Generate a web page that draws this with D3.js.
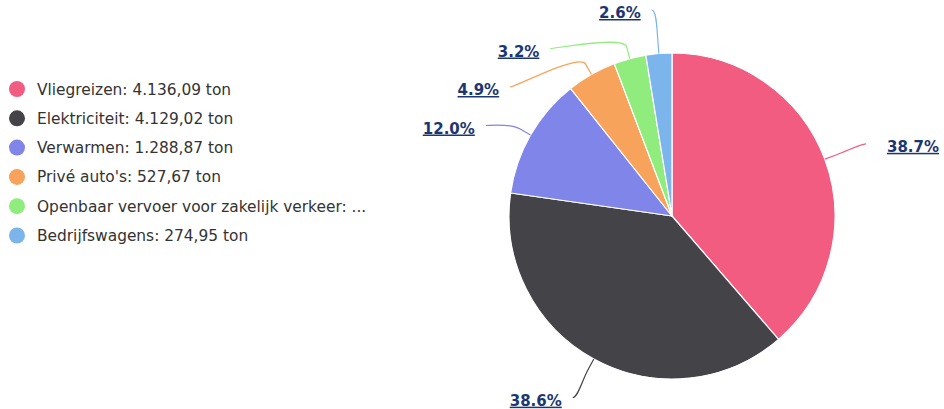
<!DOCTYPE html>
<html>
<head>
<meta charset="utf-8">
<script src="https://cdn.jsdelivr.net/npm/d3@7"></script>
<style>
  html, body { margin: 0; padding: 0; background: #fff; }
  svg { display: block; font-family: "DejaVu Sans", sans-serif; }
</style>
</head>
<body>
<svg id="chart" width="944" height="409"></svg>
<script>
// CO2-uitstoot per bron (ton)
const categories = ["Vliegreizen", "Elektriciteit", "Verwarmen", "Privé auto's", "Openbaar vervoer voor zakelijk verkeer", "Bedrijfswagens"];
const values = [4136.09, 4129.02, 1288.87, 527.67, 342.00, 274.95];
const colors = ["#f15c80", "#434348", "#8085e9", "#f7a35c", "#90ed7d", "#7cb5ec"];

const width = 944, height = 409;
const cx = 672, cy = 216, radius = 163;
const labelRadius = 207;       // circle on which connector ends sit
const breakOffset = 12;        // connector bend distance beyond the slice edge
const labelGap = 38.5;         // minimum vertical spacing between labels
const topBound = 10;

const svg = d3.select("#chart");
const total = d3.sum(values);
const nlFormat = v => v.toLocaleString("nl-NL", { minimumFractionDigits: 2, maximumFractionDigits: 2 });

const data = categories.map((c, i) => ({ name: c, value: values[i], color: colors[i] }));

const pie = d3.pie().value(d => d.value).sort(null);
const arcs = pie(data);
const arc = d3.arc().innerRadius(0).outerRadius(radius);

const g = svg.append("g").attr("transform", `translate(${cx},${cy})`);

g.selectAll("path.slice")
  .data(arcs)
  .join("path")
  .attr("class", "slice")
  .attr("d", arc)
  .attr("fill", d => d.data.color)
  .attr("stroke", "#fff")
  .attr("stroke-width", 1.2)
  .attr("stroke-linejoin", "round");

// Label layout: natural position on the label circle, then spread vertically per side
const polar = (a, r) => ({ x: r * Math.sin(a), y: -r * Math.cos(a) });
const labels = arcs.map(d => {
  const mid = (d.startAngle + d.endAngle) / 2;
  const nat = polar(mid, labelRadius);
  return { d, mid, side: Math.sin(mid) >= 0 ? "right" : "left", y: nat.y };
});

["left", "right"].forEach(side => {
  const group = labels.filter(l => l.side === side).sort((a, b) => a.y - b.y);
  let prev = topBound - cy - labelGap;
  group.forEach(l => {
    if (l.y < prev + labelGap) l.y = prev + labelGap;
    prev = l.y;
  });
});

labels.forEach(l => {
  const dy = Math.max(-labelRadius, Math.min(labelRadius, l.y));
  const dx = Math.sqrt(labelRadius * labelRadius - dy * dy);
  l.x = l.side === "right" ? dx : -dx;
  l.touch = polar(l.mid, radius);
  l.brk = polar(l.mid, radius + breakOffset);
});

g.selectAll("path.connector")
  .data(labels)
  .join("path")
  .attr("class", "connector")
  .attr("fill", "none")
  .attr("stroke", l => l.d.data.color)
  .attr("stroke-width", 1.2)
  .attr("d", l => {
    const p = d3.path();
    p.moveTo(l.x, l.y);
    p.bezierCurveTo(
      l.x + (l.side === "right" ? -5 : 5), l.y,
      2 * l.brk.x - l.touch.x, 2 * l.brk.y - l.touch.y,
      l.brk.x, l.brk.y);
    p.lineTo(l.touch.x, l.touch.y);
    return p.toString();
  });

g.selectAll("text.pct")
  .data(labels)
  .join("text")
  .attr("class", "pct")
  .attr("x", l => l.x + (l.side === "right" ? 21 : -11))
  .attr("y", l => l.y + 8)
  .attr("text-anchor", l => l.side === "right" ? "start" : "end")
  .attr("font-size", 15)
  .attr("font-weight", "bold")
  .attr("fill", "#1c3672")
  .attr("text-decoration", "underline")
  .text(l => (l.d.data.value / total * 100).toFixed(1) + "%");

// Legend
const legendX = 17, legendY0 = 89, legendStep = 29.3, legendMaxW = 372;
const legend = svg.append("g");
const rows = legend.selectAll("g")
  .data(data)
  .join("g")
  .attr("transform", (d, i) => `translate(${legendX},${legendY0 + i * legendStep})`);

rows.append("circle").attr("r", 8).attr("fill", d => d.color);

rows.append("text")
  .attr("x", 20)
  .attr("y", 5.5)
  .attr("font-size", 15.4)
  .attr("fill", "#333333")
  .each(function (d) {
    const t = d3.select(this);
    const full = `${d.name}: ${nlFormat(d.value)} ton`;
    t.text(full);
    if (this.getComputedTextLength() > legendMaxW) {
      // shorten at a word boundary and add an ellipsis
      const words = full.split(" ");
      while (words.length > 1) {
        words.pop();
        t.text(words.join(" ") + " ...");
        if (this.getComputedTextLength() <= legendMaxW) break;
      }
    }
  });
</script>
</body>
</html>
